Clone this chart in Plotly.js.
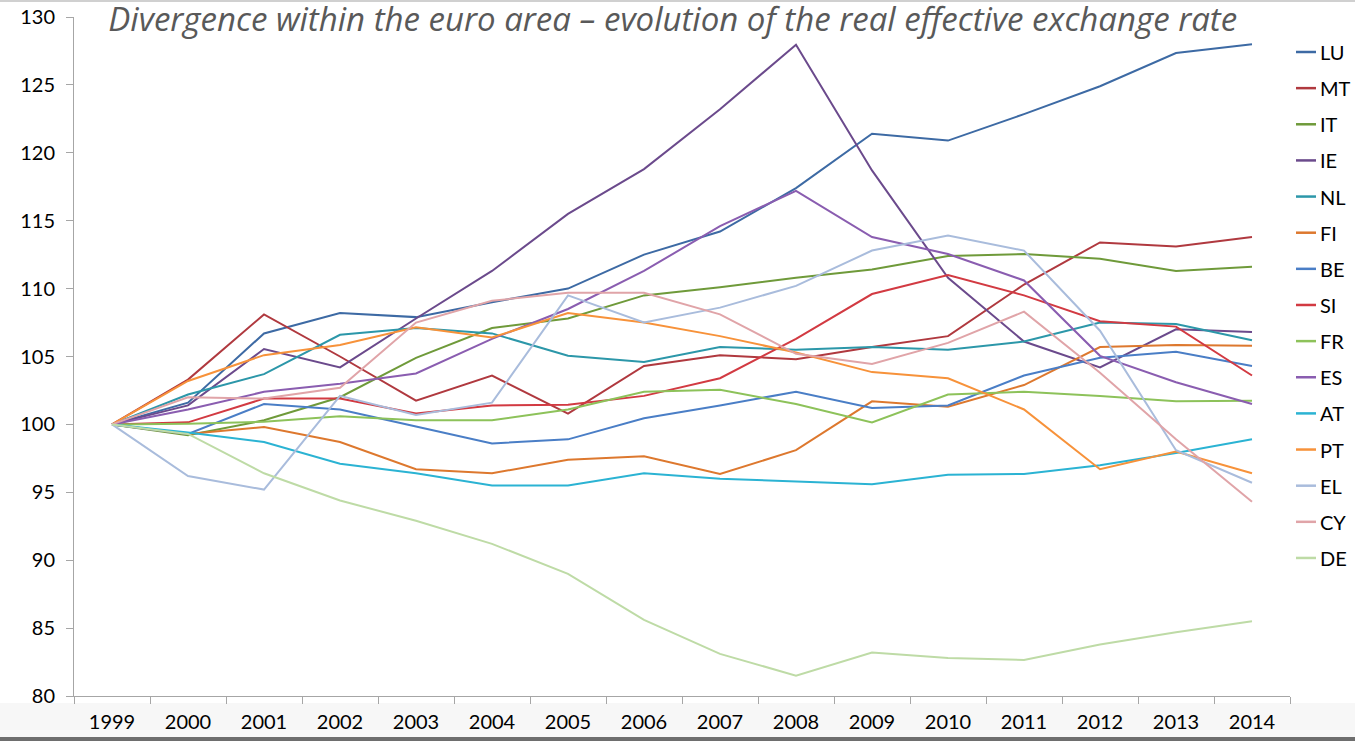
<!DOCTYPE html>
<html>
<head>
<meta charset="utf-8">
<script src="https://cdn.plot.ly/plotly-3.0.1.min.js"></script>
<style>
  html, body { margin: 0; padding: 0; background: #ffffff; }
  #chart { width: 1355px; height: 741px; }
</style>
</head>
<body>
<div id="chart"></div>
<script>
const years = ["1999","2000","2001","2002","2003","2004","2005","2006","2007","2008","2009","2010","2011","2012","2013","2014"];

const LU = [100, 101.6, 106.7, 108.2, 107.9, 109.0, 110.0, 112.5, 114.2, 117.4, 121.4, 120.9, 122.85, 124.9, 127.35, 128.0];
const MT = [100, 103.3, 108.1, 105.0, 101.75, 103.6, 100.8, 104.3, 105.1, 104.8, 105.7, 106.5, 110.3, 113.4, 113.1, 113.8];
const IT = [100, 99.2, 100.3, 102.0, 104.9, 107.1, 107.8, 109.5, 110.1, 110.8, 111.4, 112.4, 112.55, 112.2, 111.3, 111.6];
const IE = [100, 101.4, 105.55, 104.2, 107.8, 111.3, 115.5, 118.8, 123.2, 127.96, 118.7, 110.8, 106.1, 104.2, 107.0, 106.8];
const NL = [100, 102.2, 103.7, 106.6, 107.1, 106.7, 105.05, 104.6, 105.7, 105.5, 105.7, 105.5, 106.1, 107.5, 107.4, 106.2];
const FI = [100, 99.3, 99.8, 98.7, 96.7, 96.4, 97.4, 97.65, 96.35, 98.1, 101.7, 101.3, 102.9, 105.7, 105.85, 105.8];
const BE = [100, 99.3, 101.5, 101.1, 99.85, 98.6, 98.9, 100.45, 101.4, 102.4, 101.2, 101.4, 103.6, 104.9, 105.35, 104.3];
const SI = [100, 100.15, 101.9, 101.9, 100.8, 101.4, 101.45, 102.1, 103.4, 106.3, 109.6, 111.0, 109.5, 107.6, 107.2, 103.6];
const FR = [100, 100.05, 100.2, 100.6, 100.3, 100.3, 101.1, 102.4, 102.55, 101.5, 100.15, 102.2, 102.4, 102.1, 101.7, 101.75];
const ES = [100, 101.1, 102.4, 103.0, 103.75, 106.3, 108.5, 111.3, 114.6, 117.2, 113.8, 112.55, 110.6, 105.05, 103.1, 101.5];
const AT = [100, 99.4, 98.7, 97.1, 96.4, 95.5, 95.5, 96.4, 96.0, 95.8, 95.6, 96.3, 96.35, 97.0, 97.9, 98.9];
const PT = [100, 103.2, 105.1, 105.85, 107.15, 106.4, 108.2, 107.5, 106.5, 105.3, 103.85, 103.4, 101.1, 96.7, 98.0, 96.4];
const EL = [100, 96.2, 95.2, 102.1, 100.7, 101.6, 109.5, 107.5, 108.6, 110.2, 112.8, 113.9, 112.8, 106.9, 98.1, 95.7];
const CY = [100, 102.0, 101.9, 102.7, 107.5, 109.1, 109.7, 109.7, 108.1, 105.2, 104.45, 106.0, 108.3, 103.8, 98.9, 94.3];
const DE = [100, 99.3, 96.4, 94.4, 92.9, 91.2, 89.0, 85.6, 83.1, 81.5, 83.2, 82.8, 82.65, 83.8, 84.7, 85.5];

const seriesNames = ["LU","MT","IT","IE","NL","FI","BE","SI","FR","ES","AT","PT","EL","CY","DE"];
const seriesValues = [LU, MT, IT, IE, NL, FI, BE, SI, FR, ES, AT, PT, EL, CY, DE];
const seriesColors = ["#3d6aa4","#b0393f","#6f9a3a","#6b4a8c","#2c97a9","#dd782e","#4a7ec6","#d23a42","#8dc25a","#8a5db0","#2bb3d3","#f7923a","#a9bcdc","#e0a4a8","#bedba6"];

const titleText = "Divergence within the euro area \u2013 evolution of the real effective exchange rate";

const traces = seriesNames.map((n, i) => ({
  type: "scatter",
  mode: "lines",
  name: n,
  x: years,
  y: seriesValues[i],
  line: { color: seriesColors[i], width: 2 },
  showlegend: false,
  hoverinfo: "x+y+name"
}));

// figure geometry (pixels) used to place the hand-built legend
const W = 1355, H = 741, mL = 74, mR = 65, mT = 17, mB = 45;
const plotW = W - mL - mR, plotH = H - mT - mB;
const px2x = p => (p - mL) / plotW;
const px2y = p => (H - mB - p) / plotH;

const legendTop = 52, legendStep = 36.14;
const legendShapes = seriesNames.map((n, i) => ({
  type: "line", xref: "paper", yref: "paper",
  x0: px2x(1296), x1: px2x(1316),
  y0: px2y(legendTop + i * legendStep), y1: px2y(legendTop + i * legendStep),
  line: { color: seriesColors[i], width: 2.5 }
}));
const legendLabels = seriesNames.map((n, i) => ({
  xref: "paper", yref: "paper",
  x: px2x(1318), y: px2y(legendTop + i * legendStep),
  xanchor: "left", yanchor: "middle",
  text: n, showarrow: false,
  font: { family: "Lato, sans-serif", size: 20, color: "#000000" }
}));

const axisColor = "#a6a6a6";

const layout = {
  width: W,
  height: H,
  paper_bgcolor: "#ffffff",
  plot_bgcolor: "rgba(0,0,0,0)",
  margin: { l: mL, r: mR, t: mT, b: mB },
  font: { family: "Lato, 'Open Sans', sans-serif", color: "#000000", size: 20 },
  title: {
    text: titleText,
    font: { family: "'Open Sans', Lato, sans-serif", size: 33, color: "#595959", style: "italic" },
    x: 0.4965, xref: "container", xanchor: "center",
    y: 0.9895, yref: "container", yanchor: "top",
    pad: { t: 0, b: 0, l: 0, r: 0 }
  },
  xaxis: {
    type: "category",
    range: [-0.5, 15.5],
    tickson: "boundaries",
    ticks: "outside",
    ticklen: 7,
    tickcolor: axisColor,
    tickwidth: 1,
    showline: true,
    linecolor: axisColor,
    linewidth: 1,
    showgrid: false,
    zeroline: false,
    ticklabelstandoff: 8,
    tickfont: { family: "Lato, sans-serif", size: 20, color: "#000000" }
  },
  yaxis: {
    range: [80, 130],
    dtick: 5,
    tick0: 80,
    ticks: "outside",
    ticklen: 7,
    tickcolor: axisColor,
    tickwidth: 1,
    showline: true,
    linecolor: axisColor,
    linewidth: 1,
    showgrid: false,
    zeroline: false,
    ticklabelstandoff: 7,
    tickfont: { family: "Lato, sans-serif", size: 20, color: "#000000" }
  },
  showlegend: false,
  annotations: legendLabels,
  shapes: [
    { type: "rect", xref: "paper", yref: "paper", x0: px2x(0), x1: px2x(W), y0: px2y(703), y1: px2y(737),
      fillcolor: "#f7f7f7", line: { width: 0 }, layer: "below" },
    { type: "rect", xref: "paper", yref: "paper", x0: px2x(0), x1: px2x(W), y0: px2y(737), y1: px2y(741),
      fillcolor: "#6e6e6e", line: { width: 0 }, layer: "below" },
    { type: "rect", xref: "paper", yref: "paper", x0: px2x(0), x1: px2x(W), y0: px2y(0), y1: px2y(2),
      fillcolor: "#d0d0d0", line: { width: 0 }, layer: "below" }
  ].concat(legendShapes)
};

Plotly.newPlot("chart", traces, layout, { displayModeBar: false, staticPlot: true });
</script>
</body>
</html>
